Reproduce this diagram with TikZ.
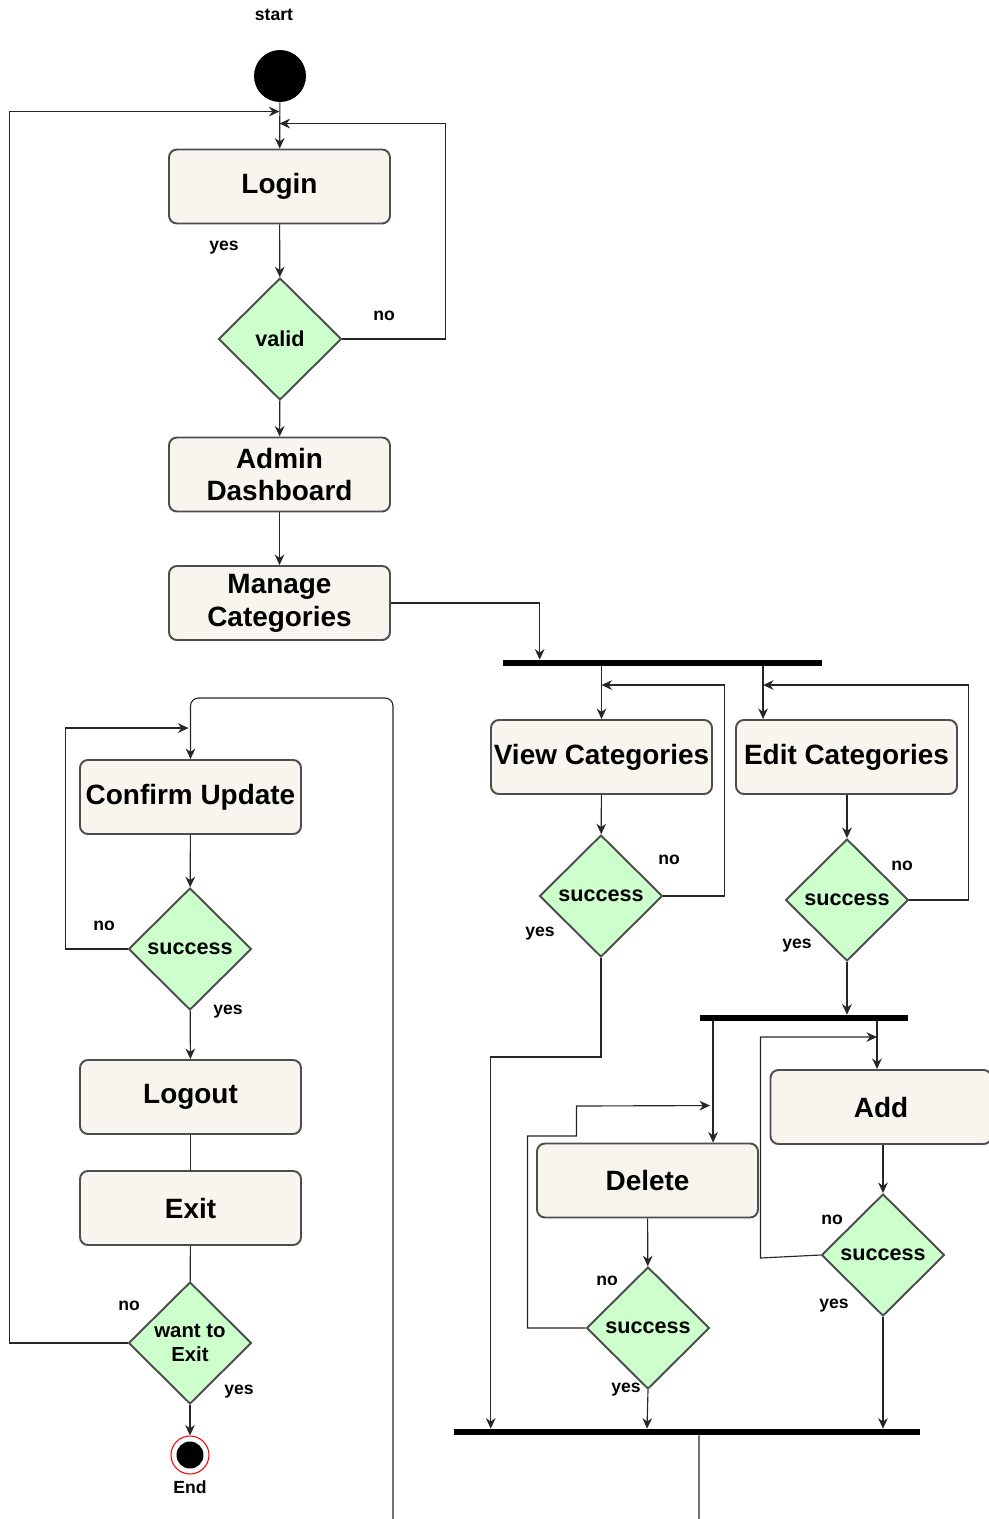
\documentclass[tikz,border=0pt]{standalone}
\usepackage{fontspec}
\setmainfont{Liberation Sans}
\usetikzlibrary{calc,shapes.geometric,arrows.meta}
\definecolor{boxfill}{HTML}{F7F5EE}
\definecolor{boxline}{HTML}{4D4D4D}
\definecolor{choicefill}{HTML}{CCFFCC}

\begin{document}
\begin{tikzpicture}[x=0.02cm,y=-0.02cm,
    activity/.style={draw=boxline,fill=boxfill,line width=1.1pt,rounded corners=4.5pt,minimum width=4.42cm,minimum height=1.48cm,inner sep=1pt,align=center,font=\fontsize{15.9}{18.7}\selectfont\bfseries},
    choice/.style={diamond,draw=boxline,fill=choicefill,line width=1.1pt,minimum width=2.46cm,minimum height=2.44cm,inner sep=0pt,align=center,font=\fontsize{12.3}{14}\selectfont\bfseries},
    bar/.style={fill=black,inner sep=0pt,minimum height=0.12cm},
    guard/.style={font=\fontsize{10}{12}\selectfont\bfseries},
    wire/.style={line width=0.65pt,draw=black!85},
    link/.style={wire,-{Stealth[length=6pt,width=5.5pt]}}]
  \useasboundingbox (0,0) rectangle (989,1519);

  % main column
  \node[circle,fill=black,minimum size=1.04cm,inner sep=0pt] (start) at (280,76) {};
  \node[guard] (start label) at (274,15) {start};
  \node[activity] (login) at (279.5,186.5) {Login};
  \node[choice] (valid) at (280,339) {valid};
  \node[activity] (admin dashboard) at (279.5,474.5) {Admin\\Dashboard};
  \node[activity] (manage categories) at (279.5,603) {Manage\\Categories};

  % categories
  \node[bar,minimum width=6.38cm] (fork views) at (662.5,663) {};
  \node[activity] (view categories) at (601.5,757) {View Categories};
  \node[activity] (edit categories) at (846.5,757) {Edit Categories};
  \node[choice] (view success) at (601,896) {success};
  \node[choice] (edit success) at (847,900) {success};
  \node[bar,minimum width=4.16cm] (fork edits) at (804,1018) {};
  \node[activity] (add) at (881,1107) {Add};
  \node[activity] (delete) at (647.5,1180.5) {Delete};
  \node[choice] (add success) at (883,1255) {success};
  \node[choice] (delete success) at (648,1328) {success};
  \node[bar,minimum width=9.32cm] (join) at (687,1432) {};

  % update and exit
  \node[activity] (confirm update) at (190.5,797) {Confirm Update};
  \node[choice] (confirm success) at (190,949) {success};
  \node[activity] (logout) at (190.5,1097) {Logout};
  \node[activity] (exit) at (190.5,1208) {Exit};
  \node[choice,font=\fontsize{11.6}{14}\selectfont\bfseries] (want exit) at (190,1343) {want to\\Exit};
  \node[circle,draw=red,fill=white,line width=0.6pt,minimum size=0.76cm,inner sep=0pt] (end) at (190,1455) {};
  \node[circle,fill=black,minimum size=0.54cm,inner sep=0pt] (end dot) at (end) {};
  \node[guard] (end label) at (190,1487) {End};

  \coordinate (edit in) at ($(edit categories.north west)+(28,0)$);
  \coordinate (delete in) at ($(delete.north west)+(177,0)$);
  \coordinate (add in) at ($(add.north)+(-4,0)$);
  \coordinate (loop top) at (393,698);

  \draw[link] (start) -- (login);
  \draw[link] (login) -- (valid);
  \draw[link] (valid) -- (admin dashboard);
  \draw[link] (admin dashboard) -- (manage categories);
  \draw[link] (valid.east) -- ++(103,0) |- ($(login.north)+(0,-25)$);
  \draw[link] (want exit.west) -- ++(-118,0) |- ($(login.north)+(0,-37)$);
  \draw[link] (manage categories.east) -| ($(fork views.north west)+(37,0)$);

  \draw[link] (fork views.south -| view categories.north) -- (view categories);
  \draw[link] (fork views.south -| edit in) -- (edit in);
  \draw[link] (view categories) -- (view success);
  \draw[link] (edit categories.south -| edit success.north) -- (edit success);
  \draw[link] (view success.east) -- ++(61,0) |- ($(view categories.north)+(0,-34)$);
  \draw[link] (edit success.east) -- ++(59,0) |- ($(edit in)+(0,-34)$);
  \draw[link] (edit success.south) -- (edit success.south |- fork edits.north);
  \draw[link] (view success.south) -- ++(0,99) -| ($(join.north west)+(37,0)$);

  \draw[link] (fork edits.south -| delete in) -- (delete in);
  \draw[link] (fork edits.south -| add in) -- (add in);
  \draw[link] (add.south -| add success.north) -- (add success);
  \draw[link] (delete) -- (delete success);
  \draw[link] (add success.west) -- ++(-60,3) |- ($(add in)+(0,-32)$);
  \draw[link] (delete success.west) -- ++(-58,0) -- ++(0,-192) -- ++(49,0) -- ++(0,-30) -- ($(delete in)+(-3,-37)$);
  \draw[link] (add success.south) -- (add success.south |- join.north);
  \draw[link] (delete success.south) -- ($(delete success.south |- join.north)+(-1,0)$);

  \draw[link,rounded corners=4.5pt] ($(join.south)+(12,0)$) -- ++(0,92) -| (loop top) -| (confirm update.north);
  \draw[link] (confirm update) -- (confirm success);
  \draw[link] (confirm success.west) -- ++(-62,0) |- ($(confirm update.north)+(-2,-31)$);
  \draw[link] (confirm success) -- (logout);
  \draw[wire] (logout) -- (exit);
  \draw[wire] (exit) -- (want exit);
  \draw[link] (want exit) -- (end);

  % guards
  \node[guard] (login yes) at (224,248) {yes};
  \node[guard] (valid no) at (384,316) {no};
  \node[guard] (view no) at (669,860) {no};
  \node[guard] (view yes) at (540,934) {yes};
  \node[guard] (edit no) at (902,866) {no};
  \node[guard] (edit yes) at (797,946) {yes};
  \node[guard] (add no) at (832,1220) {no};
  \node[guard] (add yes) at (834,1306) {yes};
  \node[guard] (delete no) at (607,1281) {no};
  \node[guard] (delete yes) at (626,1390) {yes};
  \node[guard] (confirm no) at (104,926) {no};
  \node[guard] (confirm yes) at (228,1012) {yes};
  \node[guard] (exit no) at (129,1306) {no};
  \node[guard] (exit yes) at (239,1392) {yes};
\end{tikzpicture}
\end{document}
